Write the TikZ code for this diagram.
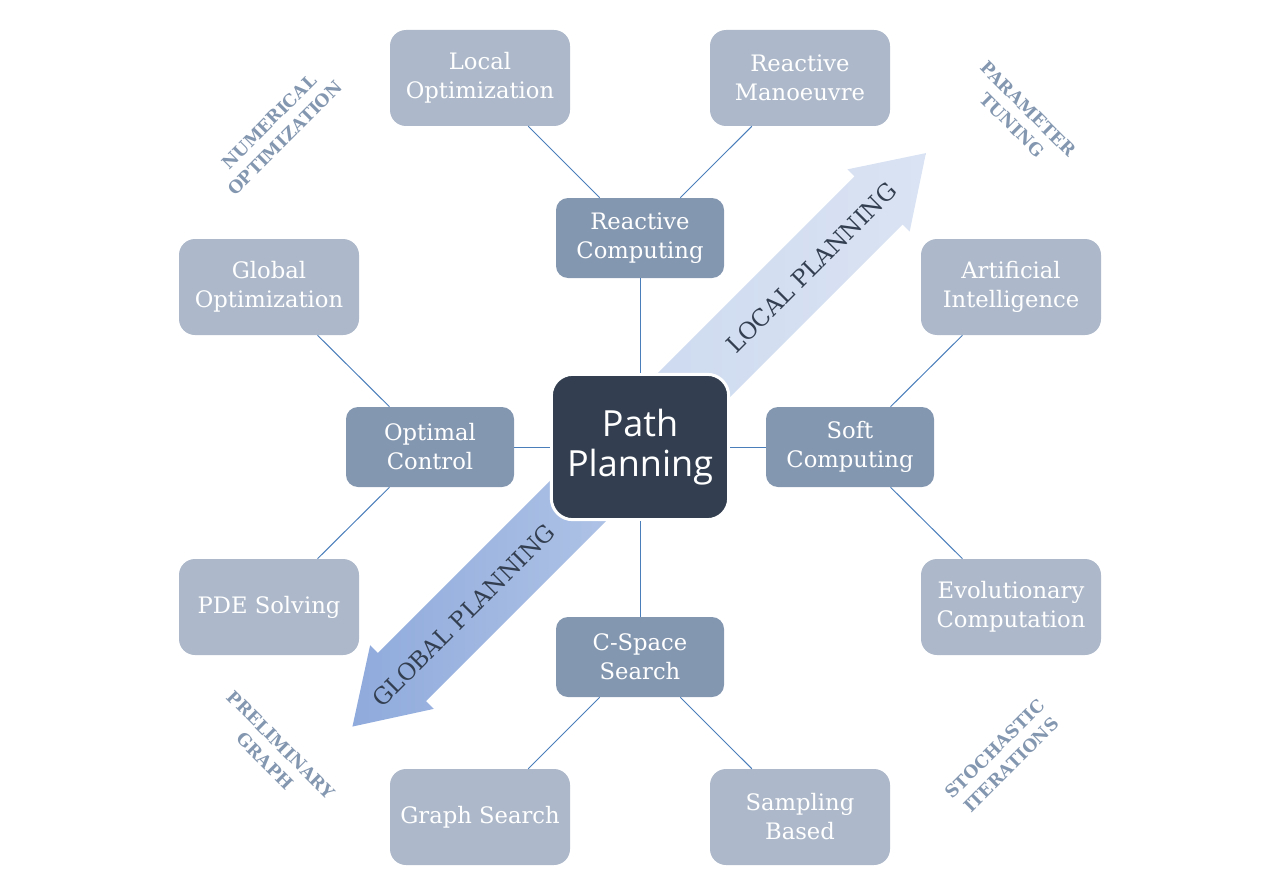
\documentclass[tikz,border=0pt]{standalone}
\usepackage{fontspec}
\setmainfont{DejaVu Serif}
\newfontfamily\hubfont{Open Sans}
\definecolor{hubblue}{HTML}{333F50}
\definecolor{midblue}{HTML}{8497B0}
\definecolor{outblue}{HTML}{ADB9CA}
\definecolor{linkblue}{HTML}{4A7EBB}
\definecolor{localA}{HTML}{CCD9EF}
\definecolor{localB}{HTML}{DAE3F3}
\definecolor{globalA}{HTML}{B4C7E7}
\definecolor{globalB}{HTML}{8FAADC}
\tikzset{hub/.style={draw=white,line width=2.25pt,fill=hubblue,rounded corners=16pt,minimum width=133pt,minimum height=109pt,inner sep=0pt,text=white,align=center,font=\hubfont\fontsize{27}{30}\selectfont},
  midbox/.style={fill=midblue,rounded corners=9pt,minimum width=126pt,minimum height=60pt,inner sep=0pt,text=white,align=center,font=\fontsize{17}{21.75}\selectfont},
  outbox/.style={fill=outblue,rounded corners=12pt,minimum width=135pt,minimum height=72pt,inner sep=0pt,text=white,align=center,font=\fontsize{17}{21.75}\selectfont},
  link/.style={draw=linkblue,line width=0.75pt},
  tag/.style={text=midblue,align=center,font=\bfseries\fontsize{13}{17}\selectfont},
  flowtext/.style={text=hubblue,font=\fontsize{17.5}{20}\selectfont}}

\begin{document}
\begin{tikzpicture}[x=0.75pt,y=-0.75pt]
          \useasboundingbox (0,0) rectangle (1280,888);

          % planning arrows
          \begin{scope}[shift={(636,443)},rotate=45]
            \shade[left color=localA,right color=localB] (0,-34) -- (343,-34) -- (343,-44) -- (410,0) -- (343,44) -- (343,34) -- (0,34) -- cycle;
            \node (lp) [flowtext,rotate=45] at (248,0) {LOCAL PLANNING};
          \end{scope}
          \begin{scope}[shift={(636,443)},rotate=225]
            \shade[left color=globalB,right color=globalA] (0,-34) -- (331,-34) -- (331,-45) -- (401,0) -- (331,45) -- (331,34) -- (0,34) -- cycle;
            \node (gp) [flowtext,rotate=45] at (244,0) {GLOBAL PLANNING};
          \end{scope}

          % boxes
          \node (pp) [hub] at (640,447) {Path\\Planning};

          \node (rc) [midbox] at (640,238) {Reactive\\Computing};
          \node (oc) [midbox] at (430,447) {Optimal\\Control};
          \node (sc) [midbox] at (850,447) {Soft\\Computing};
          \node (cs) [midbox] at (640,657) {C-Space\\Search};

          \node (lo) [outbox] at (480,78) {Local\\Optimization};
          \node (rm) [outbox] at (800,78) {Reactive\\Manoeuvre};
          \node (go) [outbox] at (269,287) {Global\\Optimization};
          \node (ai) [outbox] at (1011,287) {Artificial\\Intelligence};
          \node (pde) [outbox] at (269,607) {PDE Solving};
          \node (ec) [outbox] at (1011,607) {Evolutionary\\Computation};
          \node (gs) [outbox] at (480,817) {Graph Search};
          \node (sb) [outbox] at (800,817) {Sampling\\Based};

          % links
          \foreach \a/\b in {rc/pp, oc/pp, sc/pp, cs/pp, lo/rc, rm/rc, go/oc, pde/oc, ai/sc, ec/sc, gs/cs, sb/cs}
            \draw[link] (\a) -- (\b);

          % side tags
          \node (numopt) [tag,rotate=45] at (277,130) {NUMERICAL\\OPTIMIZATION};
          \node (partun) [tag,rotate=-45] at (1020,117) {PARAMETER\\TUNING};
          \node (pregr) [tag,rotate=-45] at (273,753) {PRELIMINARY\\GRAPH};
          \node (stoit) [tag,rotate=45] at (1003,757) {STOCHASTIC\\ITERATIONS};

\end{tikzpicture}
\end{document}
